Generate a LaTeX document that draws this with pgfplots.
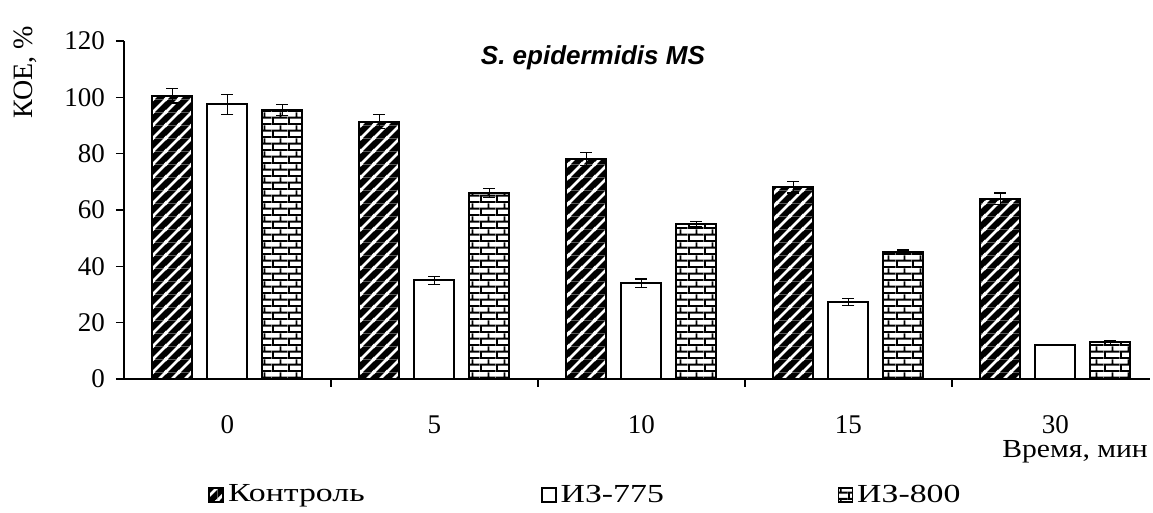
\documentclass[border=0pt]{standalone}
\usepackage{graphicx}
\usepackage{pgfplots}
\pgfplotsset{compat=1.18}
\usepackage{fontspec}
\setmainfont{Liberation Serif}
\newfontfamily\arialfont{Liberation Sans}
\usetikzlibrary{patterns}
\pgfdeclarepatterninherentlycolored{ctrlstripes}{\pgfpointorigin}{\pgfqpoint{6.4pt}{6.4pt}}{\pgfqpoint{6.4pt}{6.4pt}}{%
  \pgfsetfillcolor{black}%
  \pgfpathrectangle{\pgfpointorigin}{\pgfqpoint{6.4pt}{6.4pt}}\pgfusepath{fill}%
  \pgfsetstrokecolor{white}\pgfsetlinewidth{1.4pt}%
  \pgfpathmoveto{\pgfqpoint{-1pt}{-1pt}}\pgfpathlineto{\pgfqpoint{7.4pt}{7.4pt}}%
  \pgfpathmoveto{\pgfqpoint{-1pt}{5.4pt}}\pgfpathlineto{\pgfqpoint{1pt}{7.4pt}}%
  \pgfpathmoveto{\pgfqpoint{5.4pt}{-1pt}}\pgfpathlineto{\pgfqpoint{7.4pt}{1pt}}%
  \pgfusepath{stroke}}
\pgfdeclarepatterninherentlycolored{mybricks}{\pgfpointorigin}{\pgfqpoint{8pt}{6.4pt}}{\pgfqpoint{8pt}{6.4pt}}{%
  \pgfsetfillcolor{white}%
  \pgfpathrectangle{\pgfpointorigin}{\pgfqpoint{8pt}{6.4pt}}\pgfusepath{fill}%
  \pgfsetstrokecolor{black}\pgfsetlinewidth{1pt}%
  \pgfpathmoveto{\pgfqpoint{0pt}{0.5pt}}\pgfpathlineto{\pgfqpoint{8pt}{0.5pt}}%
  \pgfpathmoveto{\pgfqpoint{0pt}{3.7pt}}\pgfpathlineto{\pgfqpoint{8pt}{3.7pt}}%
  \pgfpathmoveto{\pgfqpoint{0.5pt}{0.5pt}}\pgfpathlineto{\pgfqpoint{0.5pt}{3.7pt}}%
  \pgfpathmoveto{\pgfqpoint{4.5pt}{3.7pt}}\pgfpathlineto{\pgfqpoint{4.5pt}{6.4pt}}%
  \pgfusepath{stroke}}
\begin{document}
\begin{tikzpicture}[font={\fontsize{13}{15}\selectfont}]
\begin{axis}[
  scale only axis,
  width=513pt, height=169pt,
  xmin=-0.5, xmax=4.457, ymin=0, ymax=120,
  axis x line=bottom, axis y line=left,
  axis line style={-, line width=0.8pt},
  ytick={0,20,...,120},
  tick align=outside,
  major tick length=4pt,
  tick style={black, line width=0.8pt},
  tick label style={font=\fontsize{13.5}{15}\selectfont},
  /pgf/number format/assume math mode=true,
  xtick={0.5,1.5,2.5,3.5},
  xticklabels={},
  extra x ticks={0,1,2,3,4},
  extra x tick labels={0,5,10,15,30},
  extra x tick style={tick style={draw=none}, xticklabel style={anchor=center, yshift=-19pt}},
  yticklabel style={xshift=-2pt},
  ylabel={КОЕ, \%},
  ylabel style={at={(rel axis cs:-0.0965,0.908)}, anchor=center, font=\fontsize{14}{16}\selectfont},
  ybar, bar width=20pt,
  clip=false,
  legend columns=3,
  legend style={draw=none, fill=none, inner sep=0pt, at={(rel axis cs:0.0819,-0.343)}, anchor=west},
  legend image code/.code={\draw[#1, line width=0.8pt] (0pt,-3.5pt) rectangle (7pt,3.5pt);},
  error bars/y dir=both, error bars/y explicit,
  error bars/error mark options={rotate=90, mark size=3pt, line width=0.6pt, black},
  error bars/error bar style={line width=0.6pt, black},
]
\addplot[bar shift=-27.5pt, draw=black, line width=1pt, pattern=ctrlstripes]
  coordinates {(0,100.5) +- (0,2.5) (1,91.3) +- (0,2.5) (2,78) +- (0,2.3) (3,68) +- (0,2) (4,64) +- (0,2)};
\addlegendentry{\makebox[154.5pt][l]{\scalebox{1.3}[1]{Контроль}}}
\addplot[bar shift=0pt, draw=black, line width=1pt, fill=white]
  coordinates {(0,97.5) +- (0,3.5) (1,35) +- (0,1.5) (2,34) +- (0,1.5) (3,27.3) +- (0,1.3) (4,12) +- (0,0)};
\addlegendentry{\makebox[136.5pt][l]{\scalebox{1.3}[1]{ИЗ-775}}}
\addplot[bar shift=27.5pt, draw=black, line width=1pt, pattern=mybricks]
  coordinates {(0,95.5) +- (0,2) (1,66) +- (0,1.5) (2,55) +- (0,1) (3,45) +- (0,0.8) (4,13) +- (0,0.8)};
\addlegendentry{\scalebox{1.3}[1]{ИЗ-800}}
\node at (rel axis cs:0.457,0.95) {\arialfont\fontsize{13}{15}\selectfont\bfseries\itshape S. epidermidis MS};
\node at (rel axis cs:0.927,-0.216) {\scalebox{1.14}[1]{Время, мин}};
\end{axis}
\pgfresetboundingbox
\path (-62pt,-67pt) rectangle (514.5pt,189.5pt);
\end{tikzpicture}
\end{document}
